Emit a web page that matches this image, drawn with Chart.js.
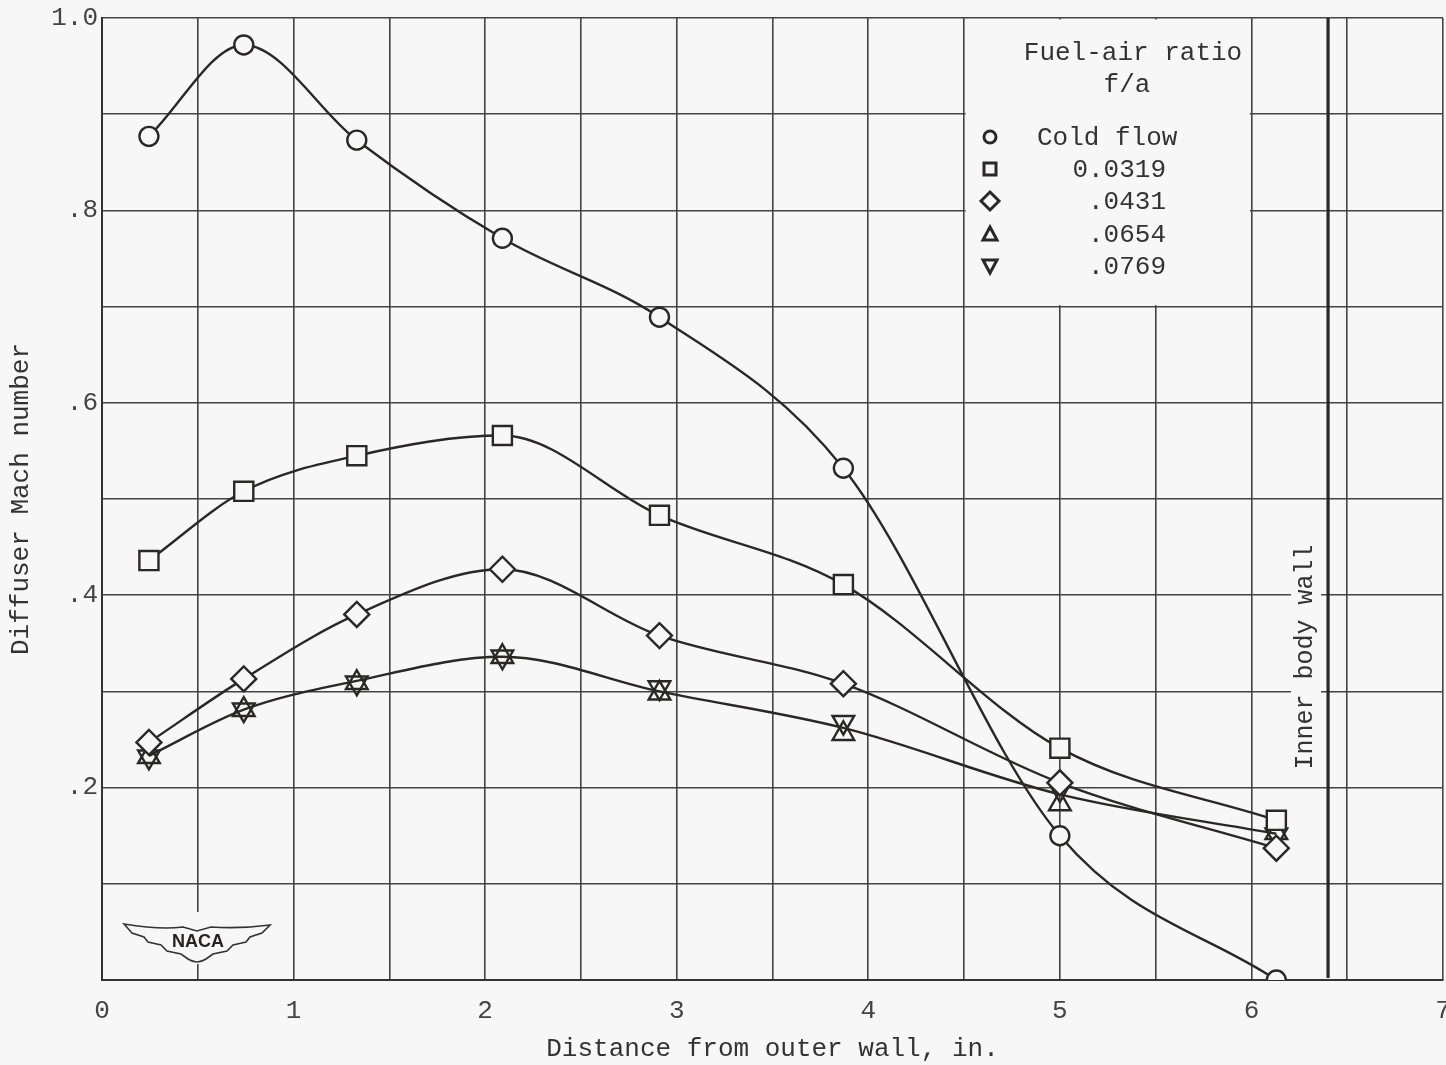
<!DOCTYPE html>
<html>
<head>
<meta charset="utf-8">
<script src="https://cdn.jsdelivr.net/npm/chart.js@4/dist/chart.umd.min.js"></script>
<style>
html,body{margin:0;padding:0;background:#f7f7f7;}
#wrap{width:1446px;height:1065px;}
canvas{display:block;}
</style>
</head>
<body>
<div id="wrap"><canvas id="c" width="1446" height="1065"></canvas></div>
<script>
// ---- data ----
const distances   = [0.245, 0.74, 1.33, 2.09, 2.91, 3.87, 5.00, 6.13];
const coldFlow    = [0.877, 0.972, 0.873, 0.771, 0.689, 0.532, 0.150, 0.000];
const fa0319      = [0.436, 0.508, 0.545, 0.566, 0.483, 0.411, 0.241, 0.166];
const fa0431      = [0.247, 0.313, 0.380, 0.427, 0.358, 0.308, 0.205, 0.137];
const fa0654      = [0.232, 0.281, 0.309, 0.336, 0.298, 0.256, 0.183, 0.153];
const fa0769      = [0.232, 0.281, 0.309, 0.336, 0.304, 0.268, 0.198, 0.151];
const fairedHigh  = [0.233, 0.281, 0.311, 0.336, 0.300, 0.262, 0.193, 0.152];
const seriesLabels = ['Cold flow', '0.0319', '.0431', '.0654', '.0769'];
const xTickLabels = ['0','1','2','3','4','5','6','7'];
const yTickLabels = {2:'.2', 4:'.4', 6:'.6', 8:'.8', 10:'1.0'};
const innerBodyWall = 6.40;

const BG = '#f7f7f7';
const INK = '#2b2727';
const GRID = '#444444';
const FONT = '"Liberation Mono", "DejaVu Sans Mono", monospace';

const pts = arr => arr.map((v, i) => ({x: distances[i], y: v}));

function ds(label, data, style, radius, opts) {
  return Object.assign({
    label, data: pts(data),
    borderColor: INK, borderWidth: 2.4,
    pointStyle: style, pointRadius: radius,
    pointBorderColor: INK, pointBorderWidth: 2.4,
    pointBackgroundColor: BG,
    cubicInterpolationMode: 'monotone',
    fill: false, showLine: true
  }, opts || {});
}

const datasets = [
  ds(seriesLabels[0], coldFlow, 'circle', 9.5),
  ds(seriesLabels[1], fa0319, 'rect', 13.5),
  ds(seriesLabels[2], fa0431, 'rectRot', 12.5),
  ds(seriesLabels[3], fa0654, 'triangle', 12.5, {showLine:false, pointBackgroundColor:'rgba(0,0,0,0)'}),
  ds(seriesLabels[4], fa0769, 'triangle', 12.5, {showLine:false, pointRotation:180, pointBackgroundColor:'rgba(0,0,0,0)'}),
  ds('faired', fairedHigh, 'circle', 0, {pointBorderWidth:0})
];

const decor = {
  id: 'decor',
  beforeDatasetsDraw(chart) {
    const ctx = chart.ctx;
    const xs = chart.scales.x, ys = chart.scales.y;
    ctx.save();
    // legend box (covers grid)
    const lx0 = xs.getPixelForValue(4.5), lx1 = xs.getPixelForValue(6.0);
    const ly0 = ys.getPixelForValue(1.0), ly1 = ys.getPixelForValue(0.7);
    ctx.fillStyle = BG;
    ctx.fillRect(lx0 + 1.5, ly0 + 1.5, lx1 - lx0 - 3, ly1 - ly0 - 3);
    // inner body wall label area
    ctx.fillRect(1291, 533, 30, 248);
    // NACA logo area
    ctx.fillRect(120, 912, 154, 52);

    ctx.fillStyle = '#333';
    ctx.font = '26px ' + FONT;
    ctx.textBaseline = 'middle';
    ctx.textAlign = 'center';
    ctx.fillText('Fuel-air ratio', 1133, 53);
    ctx.fillText('f/a', 1127, 85);
    ctx.textAlign = 'left';
    ctx.fillText(seriesLabels[0], 1037, 138);
    ctx.textAlign = 'right';
    ctx.fillText(seriesLabels[1], 1166, 170);
    ctx.fillText(seriesLabels[2], 1166, 202);
    ctx.fillText(seriesLabels[3], 1166, 235);
    ctx.fillText(seriesLabels[4], 1166, 267);
    // legend symbols
    ctx.strokeStyle = INK; ctx.lineWidth = 3;
    const mx = 990;
    ctx.beginPath(); ctx.arc(mx, 137, 6, 0, Math.PI*2); ctx.stroke();
    ctx.strokeRect(mx - 6, 163, 12, 12);
    ctx.beginPath(); ctx.moveTo(mx, 192); ctx.lineTo(mx + 9, 201); ctx.lineTo(mx, 210); ctx.lineTo(mx - 9, 201); ctx.closePath(); ctx.stroke();
    ctx.beginPath(); ctx.moveTo(mx, 227); ctx.lineTo(mx + 7, 240); ctx.lineTo(mx - 7, 240); ctx.closePath(); ctx.stroke();
    ctx.beginPath(); ctx.moveTo(mx - 7, 260); ctx.lineTo(mx + 7, 260); ctx.lineTo(mx, 273); ctx.closePath(); ctx.stroke();

    // inner body wall
    const wx = xs.getPixelForValue(innerBodyWall);
    ctx.lineWidth = 3.2;
    ctx.beginPath(); ctx.moveTo(wx, ys.getPixelForValue(1.0)); ctx.lineTo(wx, ys.getPixelForValue(0) - 2); ctx.stroke();
    ctx.save();
    ctx.translate(wx - 23, 657);
    ctx.rotate(-Math.PI/2);
    ctx.textAlign = 'center';
    ctx.fillStyle = '#333';
    ctx.font = '25px ' + FONT;
    ctx.fillText('Inner body wall', 0, 0);
    ctx.restore();

    // NACA logo
    ctx.beginPath();
    ctx.moveTo(124, 924);
    ctx.quadraticCurveTo(160, 930, 183, 927);
    ctx.lineTo(197, 931); ctx.lineTo(211, 927);
    ctx.quadraticCurveTo(240, 929, 270, 925);
    ctx.lineTo(262, 933); ctx.lineTo(250, 937); ctx.lineTo(246, 942);
    ctx.lineTo(233, 945); ctx.lineTo(227, 951); ctx.lineTo(213, 954);
    ctx.lineTo(206, 959);
    ctx.quadraticCurveTo(197, 965, 188, 959);
    ctx.lineTo(181, 954); ctx.lineTo(167, 951); ctx.lineTo(161, 945);
    ctx.lineTo(148, 942); ctx.lineTo(144, 937); ctx.lineTo(132, 933);
    ctx.closePath();
    ctx.fillStyle = BG; ctx.fill();
    ctx.lineWidth = 1.6; ctx.strokeStyle = '#333'; ctx.stroke();
    ctx.fillStyle = '#2a2020';
    ctx.font = 'bold 18px "Liberation Sans", "DejaVu Sans", sans-serif';
    ctx.textAlign = 'center';
    ctx.fillText('NACA', 198, 942);
    ctx.restore();
  }
};

new Chart(document.getElementById('c'), {
  type: 'line',
  data: { datasets },
  plugins: [decor],
  options: {
    responsive: false,
    animation: false,
    devicePixelRatio: 1,
    layout: { autoPadding: false, padding: { left: 0, top: 18, right: 3, bottom: 0 } },
    plugins: { legend: { display: false }, tooltip: { enabled: false } },
    scales: {
      x: {
        type: 'linear', min: 0, max: 7,
        afterFit: s => { s.height = 85; s.paddingRight = 0; s.paddingLeft = 0; },
        grid: { color: GRID, lineWidth: 1.6, drawTicks: false },
        border: { color: '#333', width: 2 },
        ticks: {
          stepSize: 0.5, autoSkip: false, maxRotation: 0, padding: 16,
          color: '#444', font: { family: FONT, size: 26 },
          callback: v => { const k = Math.round(v * 2); return k % 2 === 0 ? xTickLabels[k / 2] : ''; }
        },
        title: { display: true, text: 'Distance from outer wall, in.', color: '#333',
                 font: { family: FONT, size: 26, lineHeight: 1.2 }, padding: { top: 0, bottom: 0 } }
      },
      y: {
        type: 'linear', min: 0, max: 1,
        afterFit: s => { s.width = 102; s.paddingTop = 0; s.paddingBottom = 0; },
        grid: { color: GRID, lineWidth: 1.6, drawTicks: false },
        border: { color: '#333', width: 2 },
        ticks: {
          stepSize: 0.1, padding: 4,
          color: '#444', font: { family: FONT, size: 26 },
          callback: v => yTickLabels[Math.round(v * 10)] || ''
        },
        title: { display: true, text: 'Diffuser Mach number', color: '#333',
                 font: { family: FONT, size: 26, lineHeight: 1.2 }, padding: { top: 6, bottom: 0 } }
      }
    }
  }
});
</script>
</body>
</html>
